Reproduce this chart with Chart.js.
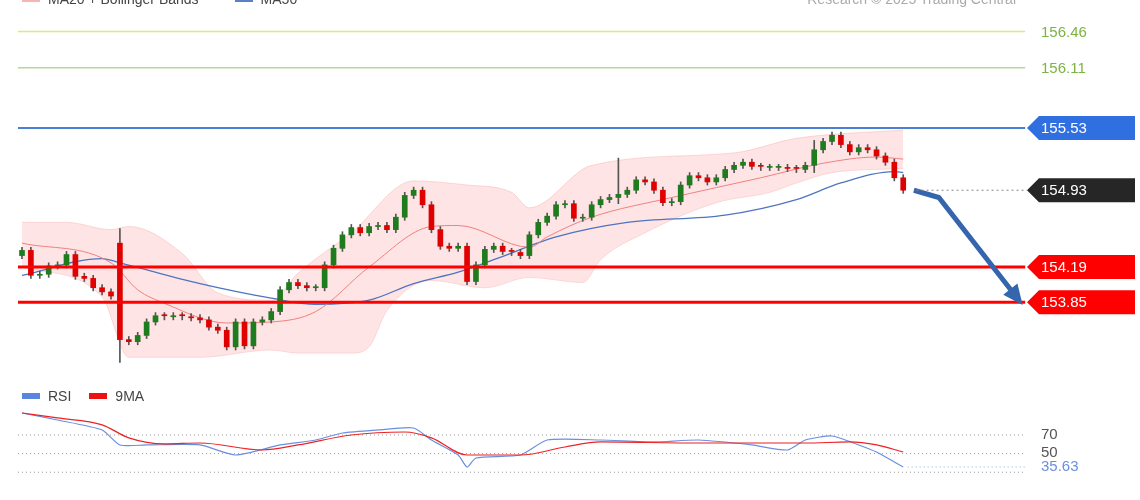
<!DOCTYPE html>
<html>
<head>
<meta charset="utf-8">
<script src="https://cdn.jsdelivr.net/npm/chart.js@4.4.1/dist/chart.umd.min.js"></script>
<style>
  body { margin: 0; background: #fff; font-family: "Liberation Sans", Arial, sans-serif; }
  #wrap { position: relative; width: 1140px; height: 500px; overflow: hidden; }
  #main { position: absolute; left: 0; top: 0; }
  #rsi { position: absolute; left: 0; top: 390px; }
  .legend { position: absolute; font-size: 14px; color: #444; display: flex; align-items: center; }
  .sw { display: inline-block; width: 18px; height: 6px; margin: 0 8px 0 0; }
</style>
</head>
<body>
<div id="wrap">
  <canvas id="main" width="1140" height="390"></canvas>
  <canvas id="rsi" width="1140" height="110"></canvas>
  <div class="legend" style="left:22px;top:-9px;"><span class="sw" style="background:#f6b4b4"></span>MA20 + Bollinger Bands<span class="sw" style="background:#5a7fc8;margin-left:36px"></span>MA50</div>
  <div class="legend" style="right:124px;top:-9px;color:#aaa;">Research © 2025 Trading Central</div>
  <div class="legend" style="left:22px;top:388px;"><span class="sw" style="background:#5b86e0"></span>RSI<span class="sw" style="background:#ee1111;margin-left:18px"></span>9MA</div>
</div>
<script>
// candle closes, one per bar index
const closes = [154.35,154.11,154.12,154.20,154.21,154.31,154.10,154.08,153.99,153.95,
  153.91,153.49,153.47,153.53,153.66,153.72,153.71,153.72,153.71,153.70,
  153.68,153.61,153.58,153.42,153.66,153.43,153.66,153.68,153.76,153.97,
  154.04,154.01,153.99,153.99,154.21,154.37,154.50,154.57,154.52,154.58,
  154.59,154.55,154.67,154.88,154.93,154.79,154.55,154.39,154.37,154.39,
  154.05,154.21,154.36,154.39,154.34,154.33,154.30,154.50,154.62,154.68,
  154.79,154.80,154.66,154.67,154.79,154.84,154.86,154.89,154.93,155.03,
  155.01,154.93,154.81,154.82,154.98,155.07,155.05,155.01,155.05,155.13,
  155.17,155.20,155.16,155.15,155.15,155.15,155.14,155.13,155.17,155.32,
  155.40,155.46,155.37,155.30,155.34,155.32,155.26,155.20,155.05,154.93];
const firstOpen = 154.30;
const gapOpens = { 11: 154.42 };
const wickPad = 0.03;
const bigWicks = { 11: [154.56, 153.27], 67: [155.24, 154.80], 89: [155.41, 155.10] };

// indicator lines [index, price]
const ma20 = [[0,154.42],[10,154.23],[13,153.97],[16,153.84],[23,153.65],[28,153.66],[33,153.76],[39,154.19],[46,154.58],[49,154.59],[57,154.38],[59,154.48],[64,154.67],[73,154.86],[83,155.05],[90,155.19],[96,155.25],[99,155.23]];
const ma50 = [[0,154.11],[9,154.27],[11,154.23],[20,154.03],[28,153.89],[33,153.83],[39,153.87],[44,154.03],[49,154.14],[53,154.26],[60,154.48],[68,154.62],[79,154.69],[87,154.84],[92,155.0],[98,155.11],[99,155.10]];
const bbUpper = [[0,154.62],[5,154.62],[10,154.55],[12,154.58],[18,154.32],[22,153.94],[28,153.87],[31,154.13],[37,154.52],[44,155.02],[50,154.98],[55,154.91],[57,154.76],[64,155.17],[80,155.29],[87,155.43],[99,155.51]];
const bbLower = [[0,154.19],[9,153.90],[12,153.32],[20,153.32],[28,153.39],[31,153.36],[37,153.36],[39,153.42],[41,153.77],[46,154.06],[52,153.99],[57,154.09],[63,154.04],[65,154.26],[70,154.52],[78,154.81],[84,154.91],[87,155.0],[91,155.10],[99,155.14]];

// levels
const levels = [
  { v: 156.46, color: '#d8e88c', width: 1.5, label: '156.46', text: '#7cb342', box: null },
  { v: 156.11, color: '#b5d89a', width: 1.5, label: '156.11', text: '#7cb342', box: null },
  { v: 155.53, color: '#4a7fd8', width: 2, label: '155.53', text: '#fff', box: '#2f6fe0' },
  { v: 154.19, color: '#ff0000', width: 3, label: '154.19', text: '#fff', box: '#ff0000' },
  { v: 153.85, color: '#ff0000', width: 3, label: '153.85', text: '#fff', box: '#ff0000' }
];
const lastPrice = 154.93;
const arrowPath = [[100.2, 154.93], [103, 154.86], [112, 153.87]];

// RSI panel
const rsiVals = [[0,93.6],[4,86.1],[9,75.4],[11,59.3],[14,59.3],[20,59.3],[24,48.5],[29,59.3],[33,64.6],[36,72.1],[40,75.4],[44,77.5],[46,64.6],[49,48.5],[50,35.6],[51,45.3],[56,48.5],[59,64.6],[65,64.6],[71,62.5],[76,64.6],[82,59.3],[86,53.9],[88,64.6],[91,68.9],[94,59.3],[96,51.7],[98,41],[99,35.63]];
const rsiMA = [[0,93.6],[4,88.3],[9,80.9],[12,66.9],[16,60.4],[20,61.4],[27,53.9],[31,59.3],[37,70],[43,73.2],[46,66.9],[50,48.5],[56,48.5],[61,57.1],[65,62.5],[76,61.4],[88,61.4],[93,62.5],[96,59.3],[99,51.7]];
const rsiLevels = [70, 50, 30];
const rsiLast = 35.63;

const X_MIN = -2.47, X_MAX = 125.6, LINE_L = -0.45, LINE_R = 112.7;
const pts = a => a.map(p => ({ x: p[0], y: p[1] }));

const bodies = [], wicks = [], bodyColors = [];
closes.forEach((c, i) => {
  const o = gapOpens[i] !== undefined ? gapOpens[i] : (i === 0 ? firstOpen : closes[i - 1]);
  bodies.push({ x: i, y: [o, Math.abs(c - o) < 0.01 ? o + 0.01 : c] });
  bodyColors.push(c >= o ? '#1e7b1e' : '#e00000');
  const w = bigWicks[i] || [Math.max(o, c) + wickPad, Math.min(o, c) - wickPad];
  wicks.push({ x: i, y: [w[1], w[0]] });
});

const levelSets = levels.map(l => ({
  type: 'line', data: [{ x: LINE_L, y: l.v }, { x: LINE_R, y: l.v }],
  borderColor: l.color, borderWidth: l.width, pointRadius: 0, order: 1
}));

function drawBox(ctx, y, label, bg, fg) {
  const x0 = 1027, x1 = 1135, h = 24;
  ctx.save();
  if (bg) {
    ctx.fillStyle = bg;
    ctx.beginPath();
    ctx.moveTo(x0, y);
    ctx.lineTo(x0 + 12, y - h / 2);
    ctx.lineTo(x1, y - h / 2);
    ctx.lineTo(x1, y + h / 2);
    ctx.lineTo(x0 + 12, y + h / 2);
    ctx.closePath();
    ctx.fill();
  }
  ctx.fillStyle = fg;
  ctx.font = '15px "Liberation Sans", Arial';
  ctx.textBaseline = 'middle';
  ctx.fillText(label, 1041, y + 1);
  ctx.restore();
}

const labelsPlugin = {
  id: 'labels',
  afterDatasetsDraw(chart) {
    const { ctx, scales: { x, y } } = chart;
    levels.forEach(l => drawBox(ctx, y.getPixelForValue(l.v), l.label, l.box, l.text));
    // last price dotted line + box
    const yp = y.getPixelForValue(lastPrice);
    ctx.save();
    ctx.strokeStyle = '#888'; ctx.setLineDash([2, 3]); ctx.lineWidth = 1;
    ctx.beginPath(); ctx.moveTo(x.getPixelForValue(100.5), yp); ctx.lineTo(1027, yp); ctx.stroke();
    ctx.restore();
    drawBox(ctx, yp, lastPrice.toFixed(2), '#262626', '#fff');
    // arrow head
    const a = arrowPath[arrowPath.length - 2], b = arrowPath[arrowPath.length - 1];
    const ax = x.getPixelForValue(a[0]), ay = y.getPixelForValue(a[1]);
    const bx = x.getPixelForValue(b[0]), by = y.getPixelForValue(b[1]);
    const ang = Math.atan2(by - ay, bx - ax);
    ctx.save();
    ctx.fillStyle = '#3565ad';
    ctx.translate(bx, by); ctx.rotate(ang);
    ctx.beginPath(); ctx.moveTo(6, 0); ctx.lineTo(-14, -9); ctx.lineTo(-14, 9); ctx.closePath(); ctx.fill();
    ctx.restore();
  }
};

const hidden = { display: false };
new Chart(document.getElementById('main'), {
  data: {
    datasets: [
      { type: 'line', data: pts(bbUpper), borderColor: 'rgba(250,180,180,0.5)', borderWidth: 1, pointRadius: 0, fill: '+1', backgroundColor: 'rgba(253,205,205,0.55)', cubicInterpolationMode: 'monotone', order: 9 },
      { type: 'line', data: pts(bbLower), borderColor: 'rgba(250,180,180,0.5)', borderWidth: 1, pointRadius: 0, cubicInterpolationMode: 'monotone', order: 9 },
      { type: 'line', data: pts(ma20), borderColor: '#f08080', borderWidth: 1, pointRadius: 0, cubicInterpolationMode: 'monotone', order: 8 },
      { type: 'line', data: pts(ma50), borderColor: '#4f74c0', borderWidth: 1.3, pointRadius: 0, cubicInterpolationMode: 'monotone', order: 8 },
      { type: 'bar', data: wicks, backgroundColor: '#555', barThickness: 1, grouped: false, order: 4 },
      { type: 'bar', data: bodies, backgroundColor: bodyColors, barThickness: 5, grouped: false, order: 3 },
      ...levelSets,
      { type: 'line', data: pts(arrowPath), borderColor: '#3565ad', borderWidth: 5, pointRadius: 0, order: 0 }
    ]
  },
  options: {
    responsive: false, animation: false, layout: { padding: 0 },
    plugins: { legend: hidden, tooltip: { enabled: false } },
    scales: {
      x: { type: 'linear', min: X_MIN, max: X_MAX, offset: false, display: false },
      y: { min: 153.004, max: 156.764, display: false }
    }
  },
  plugins: [labelsPlugin]
});

const rsiPlugin = {
  id: 'rsiLabels',
  beforeDatasetsDraw(chart) {
    const { ctx, scales: { x, y } } = chart;
    ctx.save();
    ctx.strokeStyle = '#999'; ctx.setLineDash([1, 3]); ctx.lineWidth = 1;
    rsiLevels.forEach(v => {
      const yp = y.getPixelForValue(v);
      ctx.beginPath(); ctx.moveTo(x.getPixelForValue(LINE_L), yp); ctx.lineTo(x.getPixelForValue(LINE_R), yp); ctx.stroke();
    });
    const yl = y.getPixelForValue(rsiLast);
    ctx.strokeStyle = '#8fb0f0';
    ctx.beginPath(); ctx.moveTo(x.getPixelForValue(99.5), yl); ctx.lineTo(1027, yl); ctx.stroke();
    ctx.restore();
  },
  afterDatasetsDraw(chart) {
    const { ctx, scales: { y } } = chart;
    ctx.save();
    ctx.font = '15px "Liberation Sans", Arial';
    ctx.textBaseline = 'middle';
    ctx.fillStyle = '#555';
    ctx.fillText('70', 1041, y.getPixelForValue(70));
    ctx.fillText('50', 1041, y.getPixelForValue(50) - 1);
    ctx.fillStyle = '#6c8fdc';
    ctx.fillText(rsiLast.toFixed(2), 1041, y.getPixelForValue(rsiLast));
    ctx.restore();
  }
};

new Chart(document.getElementById('rsi'), {
  type: 'line',
  data: {
    datasets: [
      { data: pts(rsiMA), borderColor: '#ee2222', borderWidth: 1.2, pointRadius: 0, cubicInterpolationMode: 'monotone' },
      { data: pts(rsiVals), borderColor: '#6a8fe0', borderWidth: 1.2, pointRadius: 0, tension: 0.2 }
    ]
  },
  options: {
    responsive: false, animation: false, layout: { padding: 0 },
    plugins: { legend: hidden, tooltip: { enabled: false } },
    scales: {
      x: { type: 'linear', min: X_MIN, max: X_MAX, display: false },
      y: { min: 0.2, max: 118.3, display: false }
    }
  },
  plugins: [rsiPlugin]
});
</script>
</body>
</html>
